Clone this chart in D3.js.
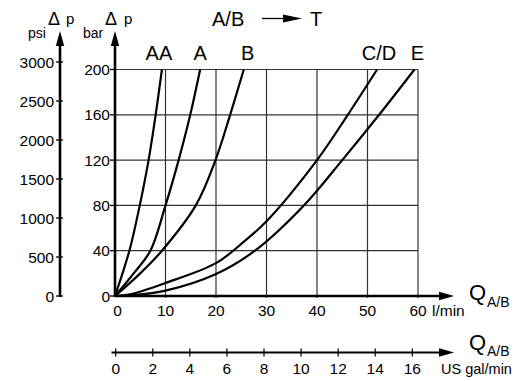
<!DOCTYPE html>
<html>
<head>
<meta charset="utf-8">
<script src="https://cdn.jsdelivr.net/npm/d3@7"></script>
<style>
  html, body { margin: 0; padding: 0; background: #fff; }
  svg text { font-family: "Liberation Sans", Arial, Helvetica, sans-serif; fill: #000; }
</style>
</head>
<body>
<svg id="chart" width="529" height="381"></svg>
<script>
// ---- data ----
const flowTicks = [0, 10, 20, 30, 40, 50, 60];          // l/min
const barTicks = [0, 40, 80, 120, 160, 200];            // bar
const psiTicks = [0, 500, 1000, 1500, 2000, 2500, 3000]; // psi
const galTicks = [0, 2, 4, 6, 8, 10, 12, 14, 16];        // US gal/min
const seriesNames = ["AA", "A", "B", "C/D", "E"];

const flowAA = [0, 2.85, 4.9, 6.65, 8.05, 9.29];
const presAA = [0, 40, 80, 120, 160, 200];
const flowA = [0, 3.7, 7.0, 10.0, 12.6, 14.9, 16.86];
const presA = [0, 20, 40, 80, 120, 160, 200];
const flowB = [0, 5.0, 9.3, 16.0, 19.9, 22.8, 25.5];
const presB = [0, 20, 40, 80, 120, 160, 200];
const flowCD = [0, 3, 10, 20, 25, 30, 40, 46.1, 51.9];
const presCD = [0, 1.5, 11.5, 29, 46, 66, 120, 160, 200];
const flowE = [0, 3, 10, 20, 27.7, 37.4, 45.0, 52.3, 59.3];
const presE = [0, 0.6, 4.7, 19.4, 40, 80, 120, 160, 200];

const seriesFlow = [flowAA, flowA, flowB, flowCD, flowE];
const seriesPres = [presAA, presA, presB, presCD, presE];
const labelDx = [-3, 0, 4, 2, 3];

// ---- scales ----
const svg = d3.select("#chart");
const x = d3.scaleLinear().domain([0, 60]).range([115, 418]);
const y = d3.scaleLinear().domain([0, 200]).range([296, 69.5]);
const psi = d3.scaleLinear().domain([0, 3000]).range([296, 62]);
const gal = d3.scaleLinear().domain([0, 16]).range([115.7, 412.3]);

const FONT = 15.5;

// ---- grid ----
const grid = svg.append("g").attr("stroke", "#333").attr("stroke-width", 1.2);
grid.selectAll("line.h").data(barTicks.slice(1)).join("line")
  .attr("x1", x(0)).attr("x2", x(60))
  .attr("y1", d => y(d)).attr("y2", d => y(d));
grid.selectAll("line.v").data(flowTicks.slice(1)).join("line")
  .attr("x1", d => x(d)).attr("x2", d => x(d))
  .attr("y1", y(200)).attr("y2", y(0) + 2);

// ---- arrowhead helpers ----
function arrowRight(xTip, yc, len, half) {
  svg.append("path").attr("d", `M${xTip},${yc} L${xTip - len},${yc - half} L${xTip - len},${yc + half} Z`).attr("fill", "#000");
}
function arrowUp(xc, yTip, len, half) {
  svg.append("path").attr("d", `M${xc},${yTip} L${xc - half},${yTip + len} L${xc + half},${yTip + len} Z`).attr("fill", "#000");
}

// ---- main flow axis (l/min) ----
svg.append("line").attr("x1", x(0)).attr("x2", 442).attr("y1", y(0)).attr("y2", y(0))
  .attr("stroke", "#000").attr("stroke-width", 2.6);
arrowRight(454, y(0), 15, 4.2);
svg.append("g").selectAll("text").data(flowTicks).join("text")
  .attr("x", d => x(d) + (d === 0 ? 2.5 : 0)).attr("y", 316)
  .attr("text-anchor", "middle").attr("font-size", FONT).text(d => d);
svg.append("text").attr("x", 432).attr("y", 316).attr("font-size", FONT).text("l/min");
svg.append("text").attr("x", 469).attr("y", 300).attr("font-size", 22).text("Q");
svg.append("text").attr("x", 487).attr("y", 307).attr("font-size", 14).text("A/B");

// ---- bar axis ----
svg.append("line").attr("x1", x(0)).attr("x2", x(0)).attr("y1", y(0) + 1).attr("y2", 44)
  .attr("stroke", "#000").attr("stroke-width", 2.6);
arrowUp(x(0), 31, 15, 4.2);
svg.append("g").attr("stroke", "#000").attr("stroke-width", 1.3)
  .selectAll("line").data(barTicks).join("line")
  .attr("x1", x(0) - 5).attr("x2", x(0)).attr("y1", d => y(d)).attr("y2", d => y(d));
svg.append("g").selectAll("text").data(barTicks).join("text")
  .attr("x", x(0) - 5).attr("y", d => y(d) + 5.5)
  .attr("text-anchor", "end").attr("font-size", FONT).text(d => d);
svg.append("text").attr("x", 83).attr("y", 38).attr("font-size", 14).text("bar");
svg.append("text").attr("x", 105).attr("y", 25).attr("font-size", 18).text("\u0394");
svg.append("text").attr("x", 124).attr("y", 24).attr("font-size", 15).text("p");

// ---- psi axis ----
const psiX = 60;
svg.append("line").attr("x1", psiX).attr("x2", psiX).attr("y1", psi(0) + 1).attr("y2", 44)
  .attr("stroke", "#000").attr("stroke-width", 2.6);
arrowUp(psiX, 31, 15, 4.2);
svg.append("g").attr("stroke", "#000").attr("stroke-width", 1.3)
  .selectAll("line").data(psiTicks).join("line")
  .attr("x1", psiX - 4).attr("x2", psiX + 3).attr("y1", d => psi(d)).attr("y2", d => psi(d));
svg.append("g").selectAll("text").data(psiTicks).join("text")
  .attr("x", psiX - 6).attr("y", d => psi(d) + 5.5)
  .attr("text-anchor", "end").attr("font-size", FONT).text(d => d);
svg.append("text").attr("x", 28).attr("y", 38).attr("font-size", 14).text("psi");
svg.append("text").attr("x", 48).attr("y", 25).attr("font-size", 18).text("\u0394");
svg.append("text").attr("x", 66).attr("y", 24).attr("font-size", 15).text("p");

// ---- gal axis ----
const galY = 352.5;
svg.append("line").attr("x1", 111.5).attr("x2", 442).attr("y1", galY).attr("y2", galY)
  .attr("stroke", "#000").attr("stroke-width", 2.2);
arrowRight(454, galY, 15, 4.2);
svg.append("g").attr("stroke", "#000").attr("stroke-width", 1.2)
  .selectAll("line").data(galTicks).join("line")
  .attr("x1", d => gal(d)).attr("x2", d => gal(d)).attr("y1", galY - 4).attr("y2", galY + 4);
svg.append("g").selectAll("text").data(galTicks).join("text")
  .attr("x", d => gal(d)).attr("y", 373.5)
  .attr("text-anchor", "middle").attr("font-size", FONT).text(d => d);
svg.append("text").attr("x", 441).attr("y", 373.5).attr("font-size", 14.5).text("US gal/min");
svg.append("text").attr("x", 469).attr("y", 349.5).attr("font-size", 22).text("Q");
svg.append("text").attr("x", 487).attr("y", 355.5).attr("font-size", 14).text("A/B");

// ---- curves ----
const line = d3.line().x(d => x(d[0])).y(d => y(d[1])).curve(d3.curveCatmullRom.alpha(0.5));
seriesNames.forEach((name, i) => {
  const pts = seriesFlow[i].map((f, j) => [f, seriesPres[i][j]]);
  svg.append("path").datum(pts).attr("d", line)
    .attr("fill", "none").attr("stroke", "#000").attr("stroke-width", 2.2)
    .attr("stroke-linejoin", "round");
  const last = pts[pts.length - 1];
  svg.append("text").attr("x", x(last[0]) + labelDx[i]).attr("y", y(200) - 9.5)
    .attr("text-anchor", "middle").attr("font-size", 20).text(name);
});

// ---- title "A/B -> T" ----
svg.append("text").attr("x", 212).attr("y", 26).attr("font-size", 20).text("A/B");
svg.append("line").attr("x1", 262).attr("x2", 290).attr("y1", 18.5).attr("y2", 18.5)
  .attr("stroke", "#000").attr("stroke-width", 1.3);
arrowRight(302, 18.5, 19, 4);
svg.append("text").attr("x", 310).attr("y", 26).attr("font-size", 20).text("T");
</script>
</body>
</html>
